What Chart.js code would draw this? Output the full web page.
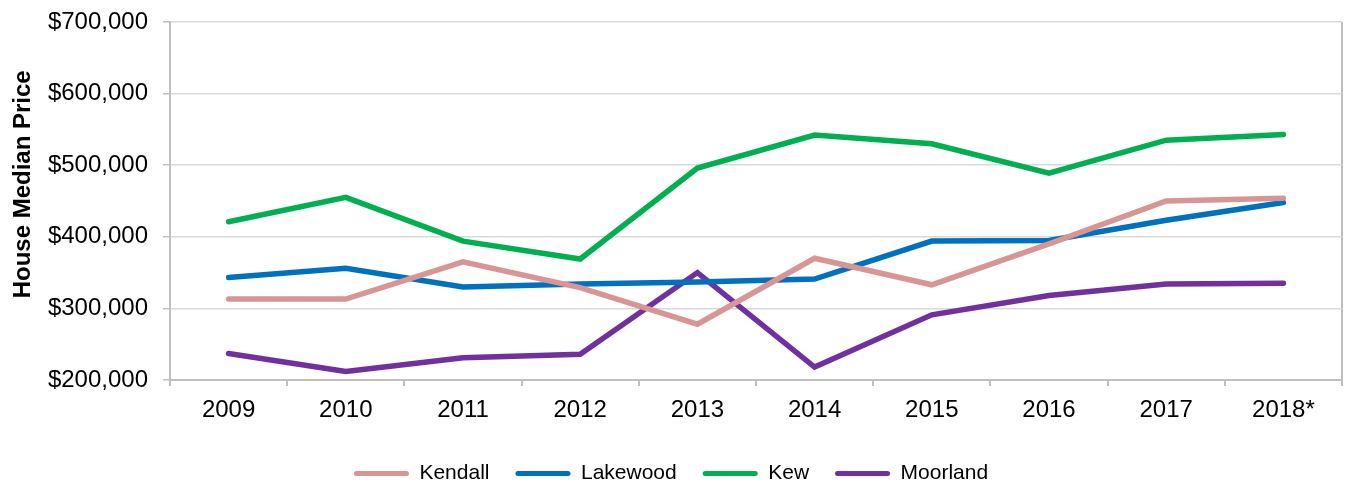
<!DOCTYPE html>
<html>
<head>
<meta charset="utf-8">
<script src="https://cdn.jsdelivr.net/npm/chart.js@4/dist/chart.umd.min.js"></script>
<style>
  html, body { margin: 0; padding: 0; background: #ffffff; }
  #wrap { width: 1346px; height: 483px; position: relative; }
</style>
</head>
<body>
<div id="wrap"><canvas id="c" width="1346" height="483"></canvas></div>
<script>
const categories = ['2009', '2010', '2011', '2012', '2013', '2014', '2015', '2016', '2017', '2018*'];
const seriesNames = ['Kendall', 'Lakewood', 'Kew', 'Moorland'];
const kendall  = [313000, 313000, 365000, 329000, 278000, 370000, 333000, 390000, 450000, 454000];
const lakewood = [343000, 356000, 330000, 334000, 337000, 341000, 394000, 395000, 423000, 448000];
const kew      = [421000, 455000, 394000, 369000, 496000, 542000, 530000, 489000, 535000, 543000];
const moorland = [237000, 212000, 231000, 236000, 350000, 218000, 291000, 318000, 334000, 335000];
const seriesColors = ['#D99594', '#0070C0', '#00B050', '#7030A0'];
const yMin = 200000, yMax = 700000, yStep = 100000;
const yTitle = 'House Median Price';

const FONT = '"Liberation Sans", Arial, Helvetica, sans-serif';
const allSeries = [kendall, lakewood, kew, moorland];

const datasets = allSeries.map((vals, i) => ({
  label: seriesNames[i],
  data: vals,
  borderColor: seriesColors[i],
  backgroundColor: seriesColors[i],
  borderWidth: 5.5,
  borderCapStyle: 'round',
  borderJoinStyle: 'miter',
  pointRadius: 0,
  pointHoverRadius: 0,
  tension: 0,
  fill: false
}));

new Chart(document.getElementById('c'), {
  type: 'line',
  data: { labels: categories, datasets },
  options: {
    responsive: false,
    animation: false,
    devicePixelRatio: 1,
    layout: { padding: { top: 22, right: 4, left: 0, bottom: -11 } },
    plugins: {
      tooltip: { enabled: false },
      legend: {
        position: 'bottom',
        labels: {
          font: { family: FONT, size: 21 },
          color: '#000000',
          boxWidth: 55,
          boxHeight: 5,
          padding: 26,
          useBorderRadius: true,
          borderRadius: 2.5,
          generateLabels: (chart) => chart.data.datasets.map((ds, i) => ({
            text: ds.label,
            fillStyle: ds.borderColor,
            strokeStyle: ds.borderColor,
            lineWidth: 0,
            borderRadius: 2.5,
            hidden: false,
            datasetIndex: i,
            fontColor: '#000000'
          }))
        }
      }
    },
    scales: {
      x: {
        offset: true,
        afterFit: (s) => { s.height = 57; s.paddingLeft = 0; s.paddingRight = 0; },
        grid: {
          offset: true,
          drawOnChartArea: true,
          drawTicks: true,
          tickLength: 6,
          tickColor: '#bfbfbf',
          tickWidth: 2,
          color: (c) => (c.tick ? 'rgba(0,0,0,0)' : '#bfbfbf'),
          lineWidth: 2
        },
        border: { display: true, color: '#bfbfbf', width: 2 },
        ticks: {
          font: { family: FONT, size: 24 },
          color: '#000000',
          padding: 10,
          maxRotation: 0,
          autoSkip: false
        }
      },
      y: {
        min: yMin,
        max: yMax,
        afterFit: (s) => { s.width = 170; s.paddingTop = 0; s.paddingBottom = 0; },
        grid: {
          color: '#d9d9d9',
          lineWidth: 1.5,
          drawTicks: true,
          tickLength: 7,
          tickColor: '#bfbfbf'
        },
        border: { display: true, color: '#bfbfbf', width: 2 },
        ticks: {
          stepSize: yStep,
          font: { family: FONT, size: 24 },
          color: '#000000',
          padding: 15,
          callback: (v) => '$' + Number(v).toLocaleString('en-US')
        },
        title: {
          display: true,
          text: '     ' + yTitle,
          font: { family: FONT, size: 24, weight: 'bold' },
          color: '#000000',
          padding: { top: 9, bottom: 0 }
        }
      }
    }
  }
});
</script>
</body>
</html>
